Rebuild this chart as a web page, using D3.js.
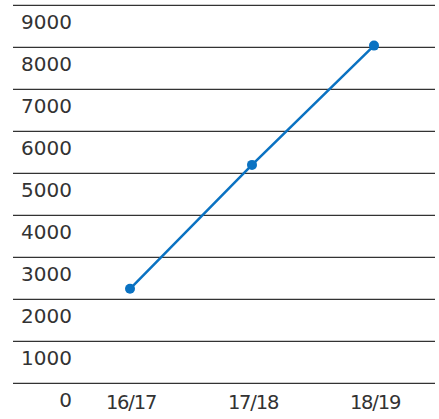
<!DOCTYPE html>
<html>
<head>
<meta charset="utf-8">
<script src="https://cdn.jsdelivr.net/npm/d3@7"></script>
<style>
  body { margin: 0; background: #fff; }
  text { font-family: "DejaVu Sans", sans-serif; fill: #333; }
</style>
</head>
<body>
<div id="chart"></div>
<script>
// data
var seasons = ["16/17", "17/18", "18/19"]
var values = [2250, 5200, 8040]
var yTicks = [0, 1000, 2000, 3000, 4000, 5000, 6000, 7000, 8000, 9000]

var width = 439, height = 419

var svg = d3.select("#chart")
    .append("svg")
        .attr("width", width)
        .attr("height", height)

var x = d3.scalePoint()
    .domain(seasons)
    .range([69, 435])
    .padding(0.5)

var y = d3.scaleLinear()
    .domain([0, 9000])
    .range([383.3, 5.3])

// gridlines, label sits under its line
var grid = svg.append("g")
grid.selectAll("line")
    .data(yTicks)
    .enter().append("line")
        .attr("x1", 13)
        .attr("x2", 435)
        .attr("y1", function(d) { return y(d) })
        .attr("y2", function(d) { return y(d) })
        .attr("stroke", "#333")
        .attr("stroke-width", 1.3)

grid.selectAll("text")
    .data(yTicks)
    .enter().append("text")
        .attr("x", 72)
        .attr("y", function(d) { return y(d) + 24 })
        .attr("text-anchor", "end")
        .style("font-size", "20px")
        .text(function(d) { return d })

svg.append("g").selectAll("text")
    .data(seasons)
    .enter().append("text")
        .attr("x", function(d) { return x(d) + 1 })
        .attr("y", 409)
        .attr("text-anchor", "middle")
        .style("font-size", "19.5px")
        .style("letter-spacing", "-1.2px")
        .text(function(d) { return d })

var line = d3.line()
    .x(function(d, i) { return x(seasons[i]) })
    .y(function(d) { return y(d) })

svg.append("path")
    .datum(values)
    .attr("d", line)
    .attr("fill", "none")
    .attr("stroke", "#0a72c2")
    .attr("stroke-width", 2.5)

svg.selectAll("circle")
    .data(values)
    .enter().append("circle")
        .attr("cx", function(d, i) { return x(seasons[i]) })
        .attr("cy", function(d) { return y(d) })
        .attr("r", 5)
        .attr("fill", "#0a72c2")
</script>
</body>
</html>
